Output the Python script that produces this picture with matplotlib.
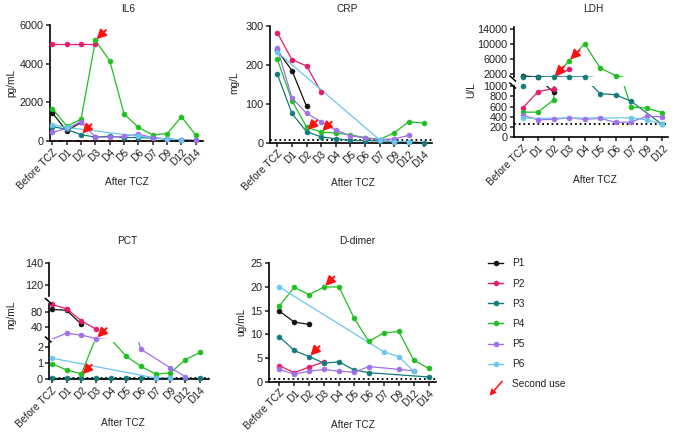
import numpy as np
import matplotlib
matplotlib.use('Agg')
import matplotlib.pyplot as plt
from matplotlib.lines import Line2D
from matplotlib.patches import FancyArrow, Patch
from matplotlib.legend_handler import HandlerPatch

plt.rcParams['font.family'] = ['Liberation Sans', 'DejaVu Sans']

nan = np.nan
days = ['Before TCZ', 'D1', 'D2', 'D3', 'D4', 'D5', 'D6', 'D7', 'D9', 'D12', 'D14']
ldh_days = days[:10]
patients = ['P1', 'P2', 'P3', 'P4', 'P5', 'P6']
colors = ['#111111', '#e8196b', '#137a7a', '#1fbf1f', '#a070ea', '#6cc6ef']

il6 = [
    [1450, 520, 960, nan, nan, nan, nan, nan, nan, nan, nan],
    [5000, 5000, 5000, 5000, nan, nan, nan, nan, nan, nan, nan],
    [750, 600, 330, 200, 250, 180, 180, 150, 100, 60, 30],
    [1680, 770, 1120, 5200, 4150, 1400, 700, 320, 380, 1250, 300],
    [450, 650, 1000, 200, 200, 250, 350, 180, 100, 50, 30],
    [850, 700, nan, nan, nan, nan, 250, nan, 100, 50, nan],
]
crp = [
    [237, 185, 93, nan, nan, nan, nan, nan, nan, nan, nan],
    [282, 213, 197, 130, nan, nan, nan, nan, nan, nan, nan],
    [176, 75, 28, 15, 10, 6, 5, 5, 3, 2, 0.5],
    [214, 108, 40, 27, 25, 20, 13, 8, 26, 54, 50],
    [242, 115, 75, 54, 32, 18, 12, 8, 10, 19, nan],
    [232, nan, nan, nan, nan, nan, nan, 7, 3, 3, nan],
]
ldh = [
    [1350, 1150, 880, nan, nan, nan, nan, nan, nan, nan],
    [570, 890, 950, 3200, nan, nan, nan, nan, nan, nan],
    [1000, 1150, 1150, 1150, 1150, 850, 830, 700, nan, 250],
    [490, 490, 730, 5500, 10000, 3500, 1500, 590, 570, 480],
    [430, 340, 350, 380, 350, 370, 290, 300, 410, 400],
    [370, nan, nan, nan, nan, nan, nan, 380, 340, 260],
]
pct = [
    [86, 84, 48, nan, nan, nan, nan, nan, nan, nan, nan],
    [99, 88, 57, 35, nan, nan, nan, nan, nan, nan, nan],
    [0.1, 0.1, 0.1, 0.1, 0.1, 0.1, 0.1, 0.1, 0.1, 0.1, 0.1],
    [0.95, 0.58, 0.33, 2.6, 2.45, 1.43, 0.8, 0.32, 0.4, 1.2, 1.65],
    [9, 25, 20, 11, nan, nan, 1.85, nan, 0.7, 0.17, nan],
    [1.3, nan, nan, nan, nan, nan, nan, 0.08, 0.08, nan, nan],
]
ddimer = [
    [14.9, 12.6, 12.1, nan, nan, nan, nan, nan, nan, nan, nan],
    [3.4, 1.9, 3.1, 4.2, nan, nan, nan, nan, nan, nan, nan],
    [9.5, 6.6, 5.3, 3.9, 4.2, 2.5, 1.9, nan, nan, nan, 1.0],
    [16, 19.9, 18.4, 20, 20, 13.5, 8.5, 10.3, 10.6, 4.6, 2.8],
    [2.6, 1.6, 2.2, 2.6, 2.2, 2.0, 3.2, nan, 2.6, 2.3, nan],
    [20, nan, nan, nan, nan, nan, nan, 6.3, 5.3, 2.2, nan],
]
# second-use arrows: (day index, value)
il6_arrows = [(3, 5200), (2, 330)]
crp_arrows = [(2, 30), (3, 27)]
ldh_arrows_up = [(2, 1150), (3, 5500)]
pct_arrows_low = [(2, 0.25)]
pct_arrows_mid = [(3, 11)]
dd_arrows = [(3, 20), (2, 5.3)]

W, H = 674, 434
fig = plt.figure(figsize=(W / 100, H / 100), dpi=100)
TXT = '#222222'
FS = 7.3


def add_ax(l, t, r, b):
    return fig.add_axes([l / W, 1 - b / H, (r - l) / W, (b - t) / H])


def style(ax, xlim, ylim, yticks, xlabels=None, bottom=True):
    ax.set_facecolor('none')
    for s in ['top', 'right']:
        ax.spines[s].set_visible(False)
    ax.spines['left'].set_linewidth(1.2)
    ax.spines['bottom'].set_linewidth(1.2)
    ax.set_xlim(xlim)
    ax.set_ylim(ylim)
    ax.set_yticks(yticks)
    ax.tick_params(width=1.1, length=3, labelsize=FS, pad=1.5, colors=TXT)
    ax.tick_params(axis='y', labelsize=FS + 0.5)
    if bottom:
        ax.set_xticks(range(len(xlabels)))
        ax.set_xticklabels(xlabels, rotation=45, ha='right', rotation_mode='anchor')
    else:
        ax.spines['bottom'].set_visible(False)
        ax.set_xticks([])


def draw(ax, y, color, lo, hi, clip=True):
    y = np.asarray(y, float)
    x = np.arange(len(y), dtype=float)
    m = ~np.isnan(y)
    ax.plot(x[m], y[m], color=color, lw=0.9, clip_on=clip, zorder=2)
    inr = m & (np.nan_to_num(y, nan=-1e9) >= lo) & (np.nan_to_num(y, nan=1e9) <= hi)
    ax.plot(x[inr], y[inr], 'o', color=color, ms=3.6, mew=0.4, mec=color, clip_on=False, zorder=3)


def arrow(ax, x, y):
    ax.annotate('', xy=(x, y), xytext=(7.5, 7.5), textcoords='offset points',
                arrowprops=dict(arrowstyle='-|>,head_length=0.55,head_width=0.28',
                                color='#ff1010', lw=1.4, shrinkA=0, shrinkB=1.2),
                annotation_clip=False, zorder=5)


def refline(ax, y, color='black', ls=(0, (1, 1.6)), lw=1.3):
    ax.axhline(y, color=color, ls=ls, lw=lw, zorder=1, clip_on=False)


def brk(x, y):
    fig.add_artist(Line2D([(x - 3) / W, (x + 2.5) / W], [1 - (y - 2.5) / H, 1 - (y + 2.5) / H],
                          color='black', lw=1.1, transform=fig.transFigure))


def ftext(x, y, s, **kw):
    fig.text(x / W, 1 - y / H, s, ha='center', va='center', fontsize=FS, color=TXT, **kw)


# ---------- IL6 ----------
ax = add_ax(49.5, 25, 203, 141)
style(ax, (-0.2, 10.5), (0, 6000), [0, 2000, 4000, 6000], days)
refline(ax, 7, color='#e02020', ls=(0, (3, 2)), lw=1.2)
for yv, c in zip(il6, colors):
    draw(ax, yv, c, 0, 6000, clip=False)
for d, v in il6_arrows:
    arrow(ax, d, v)
ftext(128, 9, 'IL6')
ftext(11, 83, 'pg/mL', rotation=90)
ftext(127, 182, 'After TCZ')

# ---------- CRP ----------
ax = add_ax(270, 25.7, 432, 142.7)
style(ax, (-0.5, 10.57), (0, 300), [0, 100, 200, 300], days)
refline(ax, 8)
for yv, c in zip(crp, colors):
    draw(ax, yv, c, 0, 300, clip=False)
for d, v in crp_arrows:
    arrow(ax, d, v)
ftext(347, 9, 'CRP')
ftext(234, 83, 'mg/L', rotation=90)
ftext(353, 183, 'After TCZ')

# ---------- LDH (broken) ----------
axu = add_ax(514, 27.1, 668, 77.4)
style(axu, (-0.55, 9.37), (1000, 14500), [2000, 6000, 10000, 14000], bottom=False)
axl = add_ax(514, 86, 668, 137.3)
style(axl, (-0.55, 9.37), (0, 1000), [0, 200, 400, 600, 800, 1000], ldh_days)
refline(axl, 250)
for yv, c in zip(ldh, colors):
    draw(axu, yv, c, 1000, 14500)
    draw(axl, yv, c, 0, 1000)
for d, v in ldh_arrows_up:
    arrow(axu, d, v)
brk(513, 78.5)
brk(513, 85.5)
ftext(593, 9, 'LDH')
ftext(471, 90, 'U/L', rotation=90)
ftext(595, 180, 'After TCZ')

# ---------- PCT (broken, 3 segments) ----------
pxl = (-0.16, 10.6)
ax1 = add_ax(49.3, 263, 209, 296)
style(ax1, pxl, (110, 140), [120, 140], bottom=False)
ax2 = add_ax(49.3, 304, 209, 339)
style(ax2, pxl, (10, 100), [40, 80], bottom=False)
ax3 = add_ax(49.3, 341.8, 209, 379.3)
style(ax3, pxl, (0, 2.3), [0, 1, 2], days)
refline(ax3, 0.05)
for yv, c in zip(pct, colors):
    draw(ax1, yv, c, 110, 140)
    draw(ax2, yv, c, 10, 100)
    draw(ax3, yv, c, 0, 2.3)
for d, v in pct_arrows_low:
    arrow(ax3, d, v)
for d, v in pct_arrows_mid:
    arrow(ax2, d, v)
brk(48.5, 301)
brk(48.5, 339.5)
ftext(127, 241, 'PCT')
ftext(11, 315, 'ng/mL', rotation=90)
ftext(123, 423, 'After TCZ')

# ---------- D-dimer ----------
ax = add_ax(269, 263.3, 436, 381.7)
style(ax, (-0.69, 10.5), (0, 25), [0, 5, 10, 15, 20, 25], days)
refline(ax, 0.5)
for yv, c in zip(ddimer, colors):
    draw(ax, yv, c, 0, 25, clip=False)
for d, v in dd_arrows:
    arrow(ax, d, v)
ftext(357, 241, 'D-dimer')
ftext(241, 322, 'ug/mL', rotation=90)
ftext(353, 425, 'After TCZ')


# ---------- legend ----------
class HandlerArrow(HandlerPatch):
    def create_artists(self, legend, orig_handle, xdescent, ydescent, width, height, fontsize, trans):
        x0 = width * 0.95 - xdescent
        y0 = height * 0.5 + 2 - ydescent
        a = FancyArrow(x0, y0, -width * 0.85, -10.5, width=1.1, head_width=5.0, head_length=5.0,
                       length_includes_head=True, color='#ff1010', lw=0)
        a.set_transform(trans)
        return [a]


handles = [Line2D([], [], color=c, marker='o', ms=3.6, mew=0.4, lw=1.0) for c in colors]
arrow_handle = Patch(color='#ff1010')
handles.append(arrow_handle)
labels = patients + ['Second use']
leg = fig.legend(handles, labels, loc='upper left', bbox_to_anchor=(488 / W, 1 - 258.5 / H),
                 frameon=False, fontsize=FS, handlelength=1.5, handletextpad=0.9,
                 labelspacing=1.0, borderpad=0, borderaxespad=0,
                 handler_map={arrow_handle: HandlerArrow()})
for t in leg.get_texts():
    t.set_color(TXT)

fig.savefig('out.png', dpi=100)
